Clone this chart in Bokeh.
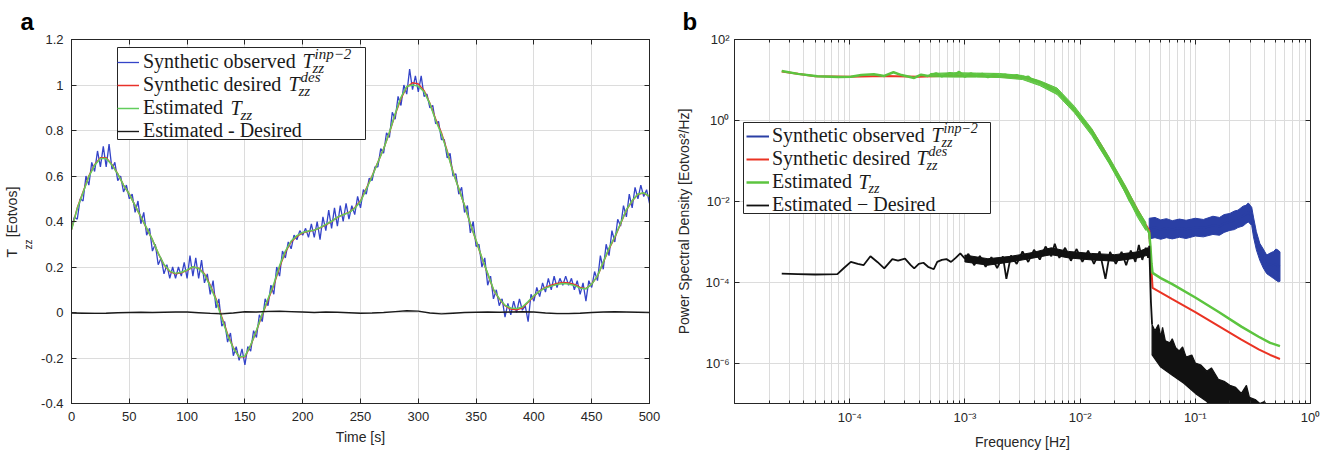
import numpy as np
from bokeh.plotting import figure
from bokeh.layouts import row
from bokeh.models import (FixedTicker, LinearAxis, LogAxis, Label, Legend, LegendItem,
                          CustomJSTickFormatter, Range1d, Title, BoxAnnotation)
from bokeh.embed import file_html
from bokeh.resources import INLINE

# ====================== DATA : panel a (Tzz time series, Eotvos) ======================
time_step_obs = 2.5      # s
time_step_smooth = 5.0   # s
time_step_diff = 10.0    # s

observed_tzz = [
    0.37, 0.42, 0.41, 0.50, 0.49, 0.60, 0.56, 0.66, 0.62, 0.71,
    0.64, 0.73, 0.64, 0.74, 0.63, 0.66, 0.58, 0.60, 0.53, 0.56,
    0.50, 0.52, 0.44, 0.49, 0.39, 0.44, 0.34, 0.37, 0.27, 0.30,
    0.21, 0.24, 0.17, 0.21, 0.15, 0.20, 0.15, 0.20, 0.16, 0.22,
    0.15, 0.25, 0.16, 0.24, 0.15, 0.23, 0.13, 0.17, 0.08, 0.14,
    0.02, 0.06, -0.06, -0.04, -0.13, -0.09, -0.19, -0.15, -0.21, -0.16,
    -0.23, -0.15, -0.17, -0.08, -0.11, -0.01, -0.04, 0.06, 0.03, 0.12,
    0.08, 0.20, 0.16, 0.27, 0.24, 0.31, 0.28, 0.34, 0.32, 0.36,
    0.34, 0.37, 0.33, 0.39, 0.33, 0.40, 0.32, 0.42, 0.36, 0.45,
    0.37, 0.46, 0.38, 0.47, 0.40, 0.48, 0.41, 0.47, 0.43, 0.51,
    0.46, 0.54, 0.52, 0.59, 0.58, 0.64, 0.64, 0.72, 0.70, 0.79,
    0.77, 0.88, 0.85, 0.95, 0.91, 1.00, 0.96, 1.07, 0.98, 1.04,
    0.97, 1.04, 0.95, 0.96, 0.90, 0.91, 0.83, 0.84, 0.76, 0.76,
    0.68, 0.70, 0.60, 0.61, 0.52, 0.55, 0.44, 0.47, 0.35, 0.40,
    0.29, 0.30, 0.20, 0.24, 0.12, 0.16, 0.06, 0.10, 0.03, 0.06,
    -0.02, 0.04, -0.01, 0.05, 0.00, 0.06, 0.01, 0.03, -0.04, 0.08,
    0.05, 0.11, 0.07, 0.13, 0.09, 0.15, 0.10, 0.16, 0.11, 0.15,
    0.12, 0.16, 0.12, 0.15, 0.10, 0.14, 0.08, 0.13, 0.05, 0.14,
    0.11, 0.18, 0.14, 0.25, 0.19, 0.30, 0.25, 0.36, 0.31, 0.41,
    0.38, 0.47, 0.42, 0.52, 0.46, 0.55, 0.50, 0.56, 0.51, 0.54,
    0.48,
]

desired_tzz = [
    0.365, 0.46, 0.53, 0.60, 0.65, 0.68, 0.68, 0.65, 0.61, 0.56,
    0.52, 0.47, 0.42, 0.37, 0.32, 0.26, 0.21, 0.18, 0.17, 0.175,
    0.185, 0.20, 0.195, 0.17, 0.12, 0.06, -0.02, -0.095, -0.155, -0.195,
    -0.195, -0.145, -0.08, -0.01, 0.055, 0.12, 0.20, 0.265, 0.31, 0.335,
    0.35, 0.357, 0.362, 0.372, 0.385, 0.40, 0.418, 0.43, 0.44, 0.46,
    0.49, 0.545, 0.60, 0.66, 0.72, 0.79, 0.87, 0.94, 0.99, 1.01,
    1.005, 0.975, 0.92, 0.85, 0.79, 0.71, 0.62, 0.545, 0.47, 0.39,
    0.315, 0.24, 0.17, 0.10, 0.06, 0.03, 0.015, 0.012, 0.02, 0.045,
    0.072, 0.095, 0.11, 0.12, 0.128, 0.132, 0.13, 0.123, 0.11, 0.105,
    0.125, 0.16, 0.22, 0.28, 0.33, 0.39, 0.45, 0.49, 0.52, 0.525,
    0.51,
]

estimated_tzz = [
    0.363, 0.457, 0.527, 0.597, 0.647, 0.677, 0.677, 0.648, 0.609, 0.56,
    0.52, 0.47, 0.421, 0.371, 0.32, 0.261, 0.211, 0.182, 0.172, 0.177,
    0.187, 0.201, 0.194, 0.167, 0.116, 0.055, -0.026, -0.099, -0.157, -0.194,
    -0.192, -0.143, -0.078, -0.006, 0.06, 0.125, 0.206, 0.27, 0.314, 0.338,
    0.352, 0.358, 0.362, 0.373, 0.387, 0.401, 0.419, 0.43, 0.439, 0.458,
    0.487, 0.542, 0.598, 0.659, 0.72, 0.792, 0.874, 0.946, 0.993, 1.0,
    0.995, 0.97, 0.918, 0.845, 0.784, 0.706, 0.617, 0.545, 0.47, 0.39,
    0.316, 0.241, 0.172, 0.102, 0.061, 0.032, 0.02, 0.018, 0.024, 0.048,
    0.074, 0.094, 0.108, 0.116, 0.123, 0.127, 0.125, 0.119, 0.107, 0.104,
    0.125, 0.161, 0.222, 0.283, 0.333, 0.392, 0.452, 0.491, 0.521, 0.526,
    0.51,
]

est_minus_des = [
    -0.002, -0.003, -0.004, -0.003, -0.001, 0.0, 0.001, 0.0, 0.001, 0.002,
    0.002, -0.001, -0.004, -0.006, -0.002, 0.003, 0.002, 0.005, 0.006, 0.004,
    0.002, 0.0, 0.002, 0.001, -0.001, -0.003, -0.002, 0.0, 0.004, 0.008,
    0.006, -0.002, -0.006, -0.003, 0.0, 0.001, 0.002, 0.001, 0.002, 0.003,
    0.002, -0.002, -0.005, -0.005, -0.003, 0.0, 0.002, 0.003, 0.002, 0.001,
    0.0,
]

time_ticks = [0, 50, 100, 150, 200, 250, 300, 350, 400, 450, 500]
tzz_ticks = [-0.4, -0.2, 0, 0.2, 0.4, 0.6, 0.8, 1, 1.2]

# ====================== DATA : panel b (PSD, log10 values) ======================
est_psd_logf = [-4.59, -4.45, -4.28, -4.10, -3.99, -3.90, -3.79, -3.70, -3.62, -3.55, -3.44, -3.38,
                -3.32, -3.25, -3.20, -3.13, -3.09, -3.05, -3.0, -2.95, -2.9, -2.85, -2.8, -2.75,
                -2.7, -2.65, -2.6, -2.55, -2.5, -2.45, -2.42, -2.37, -2.33, -2.27, -2.22, -2.19,
                -2.13, -2.06, -1.98, -1.9, -1.84, -1.76, -1.69, -1.62, -1.575, -1.5, -1.45, -1.43,
                -1.40, -1.39, -1.38, -1.371, -1.3, -1.2, -1.0, -0.8, -0.6, -0.45, -0.35, -0.265]
est_psd_logv = [1.22, 1.15, 1.09, 1.07, 1.08, 1.12, 1.14, 1.10, 1.19, 1.12, 1.05, 1.13,
                1.10, 1.16, 1.09, 1.17, 1.12, 1.20, 1.08, 1.16, 1.10, 1.15, 1.07, 1.14,
                1.09, 1.13, 1.08, 1.12, 1.05, 1.08, 1.00, 0.96, 0.91, 0.80, 0.76, 0.70,
                0.52, 0.30, 0.02, -0.28, -0.60, -0.95, -1.30, -1.68, -1.95, -2.30, -2.50, -2.62,
                -2.78, -3.10, -3.55, -3.77, -3.90, -4.05, -4.38, -4.73, -5.10, -5.35, -5.50, -5.58]
# noisy envelope of the estimated PSD
est_band_logf = [-3.3, -3.1, -2.9, -2.7, -2.5, -2.35, -2.2, -2.05, -1.9, -1.75, -1.6, -1.5, -1.43]
est_band_hi = [1.16, 1.18, 1.17, 1.16, 1.11, 0.98, 0.80, 0.35, -0.20, -0.90, -1.65, -2.20, -2.52]
est_band_lo = [1.08, 1.07, 1.07, 1.06, 1.01, 0.86, 0.64, 0.19, -0.37, -1.06, -1.83, -2.40, -2.72]

des_psd_logf = [-4.59, -4.3, -4.0, -3.7, -3.4, -3.1, -2.8, -2.5, -2.4, -2.3, -2.2, -2.1, -2.0,
                -1.9, -1.8, -1.7, -1.6, -1.5, -1.43, -1.40, -1.385, -1.371, -1.2, -1.0, -0.8,
                -0.6, -0.45, -0.35, -0.265]
des_psd_logv = [1.21, 1.09, 1.08, 1.10, 1.08, 1.11, 1.10, 1.06, 1.00, 0.89, 0.72, 0.42, 0.08,
                -0.24, -0.70, -1.20, -1.70, -2.22, -2.58, -2.72, -3.5, -4.14, -4.42, -4.74, -5.08,
                -5.42, -5.66, -5.80, -5.90]

obs_psd_logf = [-1.40, -1.35, -1.3, -1.25, -1.2, -1.138, -1.08, -1.0, -0.93, -0.847,
                -0.79, -0.75, -0.70, -0.66, -0.63, -0.585, -0.56, -0.54, -0.51, -0.495,
                -0.47, -0.44, -0.41, -0.38, -0.35, -0.32, -0.30, -0.28, -0.265]
obs_psd_hi = [-2.42, -2.40, -2.46, -2.43, -2.48, -2.44, -2.47, -2.42, -2.45, -2.37,
              -2.40, -2.33, -2.30, -2.24, -2.22, -2.12, -2.10, -2.04, -2.15, -2.39,
              -2.75, -3.04, -3.18, -3.33, -3.28, -3.24, -3.18, -3.21, -3.25]
obs_psd_lo = [-2.93, -2.90, -2.94, -2.90, -2.93, -2.89, -2.92, -2.86, -2.88, -2.82,
              -2.84, -2.77, -2.72, -2.70, -2.65, -2.61, -2.55, -2.51, -2.60, -2.88,
              -3.20, -3.46, -3.65, -3.79, -3.85, -3.91, -3.95, -3.99, -3.98]
obs_psd_mid = [-2.67, -2.65, -2.70, -2.66, -2.70, -2.66, -2.69, -2.64, -2.66, -2.60,
               -2.62, -2.55, -2.51, -2.47, -2.43, -2.36, -2.32, -2.27, -2.37, -2.63,
               -2.97, -3.25, -3.42, -3.56, -3.57, -3.58, -3.56, -3.60, -3.61]

diff_psd_logf = [-4.59, -4.45, -4.30, -4.107, -4.05, -3.99, -3.93, -3.88, -3.82, -3.76, -3.70,
                 -3.63, -3.58, -3.52, -3.47, -3.44, -3.40, -3.36, -3.32, -3.27, -3.24, -3.20,
                 -3.16, -3.12, -3.08, -3.04, -3.00, -2.97, -2.92, -2.87, -2.82, -2.77, -2.72,
                 -2.67, -2.64, -2.60, -2.55, -2.50, -2.45, -2.40, -2.35, -2.30, -2.25, -2.22,
                 -2.18, -2.13, -2.08, -2.03, -1.98, -1.93, -1.88, -1.83, -1.78, -1.74, -1.69,
                 -1.64, -1.60, -1.56, -1.52, -1.49, -1.46, -1.43, -1.41, -1.40, -1.385, -1.375]
diff_psd_logv = [-3.79, -3.80, -3.81, -3.80, -3.65, -3.50, -3.55, -3.58, -3.36, -3.50, -3.66,
                 -3.43, -3.47, -3.42, -3.58, -3.66, -3.55, -3.52, -3.62, -3.68, -3.50, -3.45,
                 -3.43, -3.50, -3.40, -3.29, -3.42, -3.30, -3.58, -3.35, -3.62, -3.38, -3.65,
                 -3.36, -3.92, -3.34, -3.55, -3.24, -3.50, -3.20, -3.44, -3.12, -3.36, -3.05,
                 -3.40, -3.15, -3.47, -3.18, -3.50, -3.22, -3.55, -3.24, -3.92, -3.25, -3.55,
                 -3.25, -3.58, -3.22, -3.50, -3.08, -3.45, -3.15, -3.40, -3.10, -4.50, -5.05]
diff_band_logf = [-3.0, -2.8, -2.6, -2.4, -2.25, -2.1, -1.9, -1.7, -1.5, -1.41]
diff_band_hi = [-3.33, -3.42, -3.36, -3.26, -3.15, -3.24, -3.29, -3.32, -3.25, -3.15]
diff_band_lo = [-3.50, -3.58, -3.50, -3.40, -3.32, -3.40, -3.45, -3.48, -3.40, -3.33]
diff_hf_up_logf = [-1.375, -1.35, -1.32, -1.30, -1.284, -1.26, -1.22, -1.20, -1.17, -1.14,
                   -1.11, -1.08, -1.03, -1.00, -0.95, -0.90, -0.86, -0.80, -0.75, -0.70,
                   -0.65, -0.60, -0.556, -0.53, -0.48, -0.44, -0.40, -0.37]
diff_hf_up_logv = [-5.05, -5.20, -5.05, -5.35, -5.12, -5.45, -5.50, -5.40, -5.62, -5.70,
                   -5.60, -5.85, -5.80, -6.00, -6.05, -6.20, -6.12, -6.40, -6.45, -6.55,
                   -6.60, -6.75, -6.55, -6.85, -6.90, -7.00, -6.95, -7.10]
diff_hf_lo_logf = [-1.375, -1.30, -1.20, -1.10, -1.00, -0.90, -0.85, -0.37]
diff_hf_lo_logv = [-5.80, -6.10, -6.30, -6.50, -6.75, -6.95, -7.20, -7.20]

freq_ticks = [1e-4, 1e-3, 1e-2, 1e-1, 1e0]
freq_minor = [m * 10.0 ** e for e in range(-5, 0) for m in range(2, 10)]
psd_ticks = [1e-6, 1e-4, 1e-2, 1e0, 1e2]

legend_a = ["Synthetic observed", "Synthetic desired", "Estimated", "Estimated - Desired"]
legend_b = ["Synthetic observed", "Synthetic desired", "Estimated", "Estimated \u2212 Desired"]

# ====================== STYLE ======================
AX = "#262626"
GRID = "#dcdcdc"
SANS = "Liberation Sans"
SERIF = "Liberation Serif"
TXT = "#1a1a1a"
BLUE_A, RED_A, GREEN_A, BLACK_A = "#3444c8", "#e8312a", "#62cd5c", "#1a1a1a"
BLUE_B, RED_B, GREEN_B, BLACK_B = "#2a3fa5", "#ea3323", "#5cc43f", "#111111"
NB = "\u00a0"
ROW_H = 23.25   # measured legend row pitch for a 20px serif label

blank_fmt = CustomJSTickFormatter(code="return ''")
plain_fmt = CustomJSTickFormatter(code="return String(Math.round(tick * 1000) / 1000);")
log_fmt = CustomJSTickFormatter(code="""
const sup = {"-": "\u207b", "0": "\u2070", "1": "\u00b9", "2": "\u00b2", "3": "\u00b3",
             "4": "\u2074", "5": "\u2075", "6": "\u2076", "7": "\u2077", "8": "\u2078", "9": "\u2079"};
const e = Math.round(Math.log10(tick));
return "10" + String(e).split("").map(c => sup[c]).join("");
""")


def style_axis(ax, standoff=7, blank=False):
    ax.axis_line_color = AX
    ax.major_tick_line_color = AX
    ax.minor_tick_line_color = AX
    ax.major_tick_in = 5
    ax.major_tick_out = 0
    ax.minor_tick_in = 3
    ax.minor_tick_out = 0
    ax.major_label_standoff = standoff
    ax.major_label_text_font = SANS
    ax.major_label_text_font_size = "0px" if blank else "13px"
    ax.major_label_text_color = AX
    ax.axis_label_text_font = SANS
    ax.axis_label_text_font_style = "normal"
    ax.axis_label_text_font_size = "14px"
    ax.axis_label_text_color = AX


# frame geometry (pixels inside each figure)
A_L, A_W, B_L, B_W, TOP, FH = 71, 578, 68, 576, 39, 364


def ax_(px):   # panel a: page x pixel -> time
    return (px - A_L) * 500.0 / A_W


def ay_(py):   # panel a: page y pixel -> Tzz
    return 1.2 - (py - TOP) * 1.6 / FH


def bx_(px):   # panel b: page x pixel -> frequency
    return 10.0 ** (-5 + (px - 666 - B_L) * 5.0 / B_W)


def by_(py):   # panel b: page y pixel -> PSD
    return 10.0 ** (2 - (py - TOP) * 9.0 / FH)


def panel_title(p, letter, offset):
    p.title.text = letter
    p.title.align = "left"
    p.title.offset = offset
    p.title.standoff = 10
    p.title.text_font = SANS
    p.title.text_font_size = "24px"
    p.title.text_font_style = "bold"
    p.title.text_color = "black"


def math_legend(p, fx, fy, box, rows_top, pad, items, legend_x, labels, renderers, glyph_w,
                standoff, script_px):
    """Opaque box + transparent legend + T_zz math pieces drawn on top."""
    l, r, t, b = box
    p.add_layout(BoxAnnotation(left=fx(l), right=fx(r), top=fy(t), bottom=fy(b),
                               fill_color="white", fill_alpha=1.0, line_color=AX,
                               line_width=1, line_alpha=1.0))
    n = len(labels)
    leg_bottom = rows_top - pad + 2 * pad + n * ROW_H
    leg = Legend(items=[LegendItem(label=s, renderers=[rr]) for s, rr in zip(labels, renderers)],
                 location=(legend_x, 403 - leg_bottom), orientation="vertical",
                 label_text_font=SERIF, label_text_font_size="20px", label_text_color=TXT,
                 glyph_width=glyph_w, glyph_height=20, label_height=20, label_standoff=standoff,
                 padding=pad, spacing=0, margin=0,
                 border_line_alpha=0.0, background_fill_alpha=0.0)
    p.add_layout(leg, "center")
    centers = [rows_top + ROW_H * (k + 0.5) for k in range(n)]
    fs = "%dpx" % script_px
    for k, tx, sub, sup in items:
        cy = centers[k]
        p.add_layout(Label(x=fx(tx), y=fy(cy), text="T", text_font=SERIF,
                           text_font_style="italic", text_font_size="20px",
                           text_baseline="middle", text_color=TXT))
        if sub:
            p.add_layout(Label(x=fx(tx + 10), y=fy(cy + 7), text=sub, text_font=SERIF,
                               text_font_style="italic", text_font_size=fs,
                               text_baseline="middle", text_color=TXT))
        if sup:
            p.add_layout(Label(x=fx(tx + 12), y=fy(cy - 7), text=sup, text_font=SERIF,
                               text_font_style="italic", text_font_size=fs,
                               text_baseline="middle", text_color=TXT))


# ====================== PANEL A ======================
p1 = figure(frame_width=A_W, frame_height=FH, x_range=Range1d(0, 500), y_range=Range1d(-0.4, 1.2),
            output_backend="svg", toolbar_location=None,
            min_border_left=A_L, min_border_right=17, min_border_top=TOP, min_border_bottom=49)
p1.outline_line_color = AX
p1.background_fill_color = "white"
p1.border_fill_color = "white"
p1.xaxis.ticker = FixedTicker(ticks=time_ticks)
p1.yaxis.ticker = FixedTicker(ticks=tzz_ticks)
p1.yaxis.formatter = plain_fmt
p1.xaxis.axis_label = "Time [s]"
style_axis(p1.xaxis[0], 8)
style_axis(p1.yaxis[0], 8)
p1.grid.grid_line_color = GRID
top1 = LinearAxis(ticker=FixedTicker(ticks=time_ticks), formatter=blank_fmt)
right1 = LinearAxis(ticker=FixedTicker(ticks=tzz_ticks), formatter=blank_fmt)
for a in (top1, right1):
    style_axis(a, 0, blank=True)
p1.add_layout(top1, "above")
p1.add_layout(right1, "right")
panel_title(p1, "a", -51)

# y axis label "T_zz [Eotvos]" built from two side titles (subscript nearer to the axis)
p1.add_layout(Title(text="zz", align="left", offset=403 - 249, standoff=10, text_font=SANS,
                    text_font_size="10px", text_font_style="normal", text_color=AX), "left")
p1.add_layout(Title(text="T" + NB * 3 + "[Eotvos]", align="left", offset=403 - 257, standoff=-9,
                    text_font=SANS, text_font_size="14px", text_font_style="normal",
                    text_color=AX), "left")

t_obs = np.arange(len(observed_tzz)) * time_step_obs
t_smooth = np.arange(len(desired_tzz)) * time_step_smooth
t_diff = np.arange(len(est_minus_des)) * time_step_diff

r_obs = p1.line(t_obs, observed_tzz, line_color=BLUE_A, line_width=1.3)
r_des = p1.line(t_smooth, desired_tzz, line_color=RED_A, line_width=1.5)
r_est = p1.line(t_smooth, estimated_tzz, line_color=GREEN_A, line_width=1.5)
r_dif = p1.line(t_diff, est_minus_des, line_color=BLACK_A, line_width=1.4)

math_legend(p1, ax_, ay_, box=(117, 365, 47, 139), rows_top=49, pad=3,
            items=[(0, 302, "zz", "inp\u22122"), (1, 288, "zz", "des"), (2, 230, "zz", "")],
            legend_x=117 - A_L - 3, labels=legend_a, renderers=[r_obs, r_des, r_est, r_dif],
            glyph_w=22, standoff=4, script_px=15)

# ====================== PANEL B ======================
p2 = figure(frame_width=B_W, frame_height=FH, x_axis_type="log", y_axis_type="log",
            x_range=Range1d(1e-5, 1), y_range=Range1d(1e-7, 1e2),
            output_backend="svg", toolbar_location=None,
            min_border_left=B_L, min_border_right=22, min_border_top=TOP, min_border_bottom=49)
p2.outline_line_color = AX
p2.background_fill_color = "white"
p2.border_fill_color = "white"
p2.xaxis.ticker = FixedTicker(ticks=freq_ticks, minor_ticks=freq_minor)
p2.yaxis.ticker = FixedTicker(ticks=psd_ticks)
p2.xaxis.formatter = log_fmt
p2.yaxis.formatter = log_fmt
p2.xaxis.axis_label = "Frequency [Hz]"
p2.yaxis.axis_label = "Power Spectral Density [Eotvos\u00b2/Hz]"
style_axis(p2.xaxis[0], 6)
style_axis(p2.yaxis[0], 5)
p2.yaxis.axis_label_standoff = 10
p2.xaxis.axis_label_standoff = 6
p2.grid.grid_line_color = GRID
p2.xgrid.minor_grid_line_color = GRID
top2 = LogAxis(ticker=FixedTicker(ticks=freq_ticks, minor_ticks=freq_minor), formatter=blank_fmt)
right2 = LogAxis(ticker=FixedTicker(ticks=psd_ticks), formatter=blank_fmt)
for a in (top2, right2):
    style_axis(a, 0, blank=True)
p2.add_layout(top2, "above")
p2.add_layout(right2, "right")
panel_title(p2, "b", -52)


def pw(v):
    return np.power(10.0, np.asarray(v, dtype=float))


def band(fx, hi, lo):
    return np.concatenate([pw(fx), pw(fx)[::-1]]), np.concatenate([pw(hi), pw(lo)[::-1]])


# observed (blue)
bx, byy = band(obs_psd_logf, obs_psd_hi, obs_psd_lo)
p2.patch(bx, byy, fill_color=BLUE_B, line_color=BLUE_B, line_width=1)
r2_obs = p2.line(pw(obs_psd_logf), pw(obs_psd_mid), line_color=BLUE_B, line_width=2)
# desired (red)
r2_des = p2.line(pw(des_psd_logf), pw(des_psd_logv), line_color=RED_B, line_width=2)
# estimated (green)
gx, gy = band(est_band_logf, est_band_hi, est_band_lo)
r2_est = p2.line(pw(est_psd_logf), pw(est_psd_logv), line_color=GREEN_B, line_width=2.5)
p2.patch(gx, gy, fill_color=GREEN_B, fill_alpha=0.9, line_color=GREEN_B, line_width=1)
# estimated - desired (black)
kx, ky = band(diff_band_logf, diff_band_hi, diff_band_lo)
p2.patch(kx, ky, fill_color=BLACK_B, line_color=BLACK_B, line_width=1)
r2_dif = p2.line(pw(diff_psd_logf), pw(diff_psd_logv), line_color=BLACK_B, line_width=1.8)
hx = np.concatenate([pw(diff_hf_up_logf), pw(diff_hf_lo_logf)[::-1]])
hy = np.concatenate([pw(diff_hf_up_logv), pw(diff_hf_lo_logv)[::-1]])
p2.patch(hx, hy, fill_color=BLACK_B, line_color=BLACK_B, line_width=1.2)

math_legend(p2, bx_, by_, box=(743, 990, 122, 213), rows_top=123, pad=3,
            items=[(0, 931, "zz", "inp\u22122"), (1, 916, "zz", "des"), (2, 858, "zz", "")],
            legend_x=743 - 666 - B_L, labels=legend_b, renderers=[r2_obs, r2_des, r2_est, r2_dif],
            glyph_w=23, standoff=3, script_px=14)

layout = row(p1, p2)
open("out.html", "w").write(file_html(layout, INLINE))
